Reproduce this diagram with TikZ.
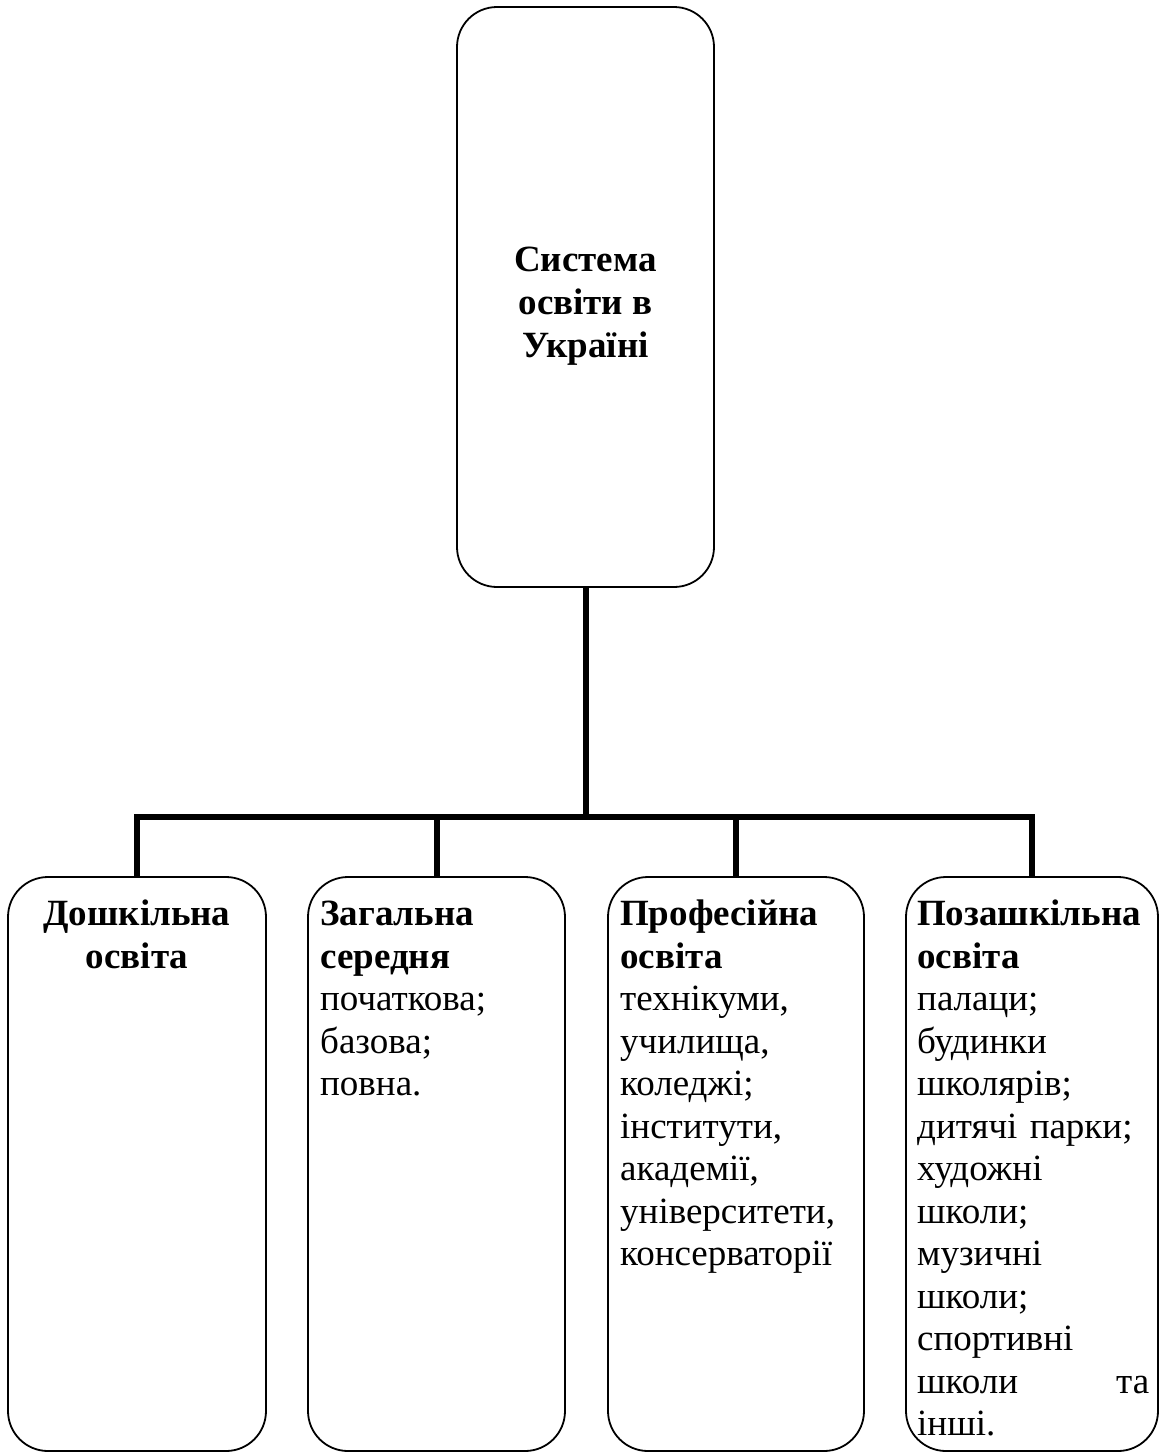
\documentclass[tikz,border=0pt]{standalone}
\usepackage{fontspec}
\setmainfont{Liberation Serif}
\begin{document}
\begin{tikzpicture}[x=1pt,y=-1pt,
  box/.style={draw, line width=1.8pt, rounded corners=40pt, inner sep=0pt},
  conn/.style={line width=6pt, line join=miter},
  txt/.style={inner sep=0pt, anchor=north west, text width=240pt, align=left,
    font=\fontsize{37}{42.5}\selectfont}]
\useasboundingbox (0,0) rectangle (1161,1454);
% top box
\node[box, minimum width=257pt, minimum height=580pt] (top) at (585.5,297) {};
\node[inner sep=0pt, align=center, font=\bfseries\fontsize{37}{43}\selectfont] (toptxt) at (585.5,306) {Система\\освіти в\\Україні};
% bottom boxes
\node[box, minimum width=258pt, minimum height=574pt] (b1) at (137,1164) {};
\node[box, minimum width=257pt, minimum height=574pt] (b2) at (436.5,1164) {};
\node[box, minimum width=256pt, minimum height=574pt] (b3) at (736,1164) {};
\node[box, minimum width=252pt, minimum height=574pt] (b4) at (1032,1164) {};
% texts
\node[txt, anchor=north, text width=250pt, align=center] (t1) at (137,896) {\strut\textbf{Дошкільна}\\\textbf{освіта}};
\node[txt] (t2) at (320,896) {\strut\textbf{Загальна}\\\textbf{середня}\\початкова;\\базова;\\повна.};
\node[txt] (t3) at (620,896) {\strut\textbf{Професійна}\\\textbf{освіта}\\технікуми,\\училища,\\коледжі;\\інститути,\\академії,\\університети,\\консерваторії};
\node[txt, text width=232pt] (t4) at (917,896) {\strut\textbf{Позашкільна}\\\textbf{освіта}\\палаци;\\будинки\\школярів;\\дитячі парки;\\художні\\школи;\\музичні\\школи;\\спортивні\\школи\hfill та\\інші.};
% connectors
\coordinate (hub) at (585.5,817);
\draw[conn] (top.south) -- (hub);
\draw[conn] (b1.north) -- (b1.north |- hub) -- (b4.north |- hub) -- (b4.north);
\draw[conn] (b2.north |- hub) -- (b2.north);
\draw[conn] (b3.north |- hub) -- (b3.north);
\end{tikzpicture}
\end{document}
